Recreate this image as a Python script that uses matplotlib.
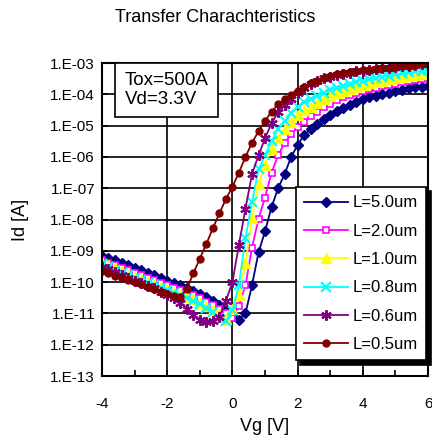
import numpy as np
import matplotlib
matplotlib.use("Agg")
import matplotlib.pyplot as plt
from matplotlib.ticker import FixedLocator, NullFormatter

plt.rcParams['font.family'] = ['Liberation Sans', 'DejaVu Sans']

# gate voltage sweep [V]
vg = [-4.0, -3.8, -3.6, -3.4, -3.2, -3.0, -2.8, -2.6, -2.4, -2.2,
      -2.0, -1.8, -1.6, -1.4, -1.2, -1.0, -0.8, -0.6, -0.4, -0.2,
      0.0, 0.2, 0.4, 0.6, 0.8, 1.0, 1.2, 1.4, 1.6, 1.8,
      2.0, 2.2, 2.4, 2.6, 2.8, 3.0, 3.2, 3.4, 3.6, 3.8,
      4.0, 4.2, 4.4, 4.6, 4.8, 5.0, 5.2, 5.4, 5.6, 5.8, 6.0]

# log10(Id), one list per gate length
log_id_5p0 = [-9.15, -9.22, -9.30, -9.38, -9.45, -9.55, -9.62, -9.70, -9.78, -9.86,
              -9.95, -10.02, -10.10, -10.20, -10.28, -10.37, -10.48, -10.60, -10.73, -10.85,
              -11.05, -11.20, -11.00, -10.10, -9.05, -8.38, -7.60, -7.00, -6.55, -6.00,
              -5.62, -5.30, -5.12, -4.95, -4.80, -4.65, -4.53, -4.43, -4.34, -4.25,
              -4.16, -4.10, -4.05, -4.00, -3.95, -3.90, -3.85, -3.81, -3.78, -3.75, -3.72]
log_id_2p0 = [-9.30, -9.38, -9.46, -9.54, -9.62, -9.70, -9.78, -9.86, -9.94, -10.02,
              -10.10, -10.18, -10.26, -10.34, -10.42, -10.52, -10.62, -10.74, -10.86, -11.00,
              -11.15, -10.75, -10.10, -8.90, -7.98, -7.30, -6.50, -5.95, -5.55, -5.28,
              -5.05, -4.87, -4.70, -4.55, -4.42, -4.30, -4.18, -4.08, -4.01, -3.95,
              -3.89, -3.84, -3.79, -3.74, -3.70, -3.66, -3.62, -3.58, -3.55, -3.52, -3.48]
log_id_1p0 = [-9.38, -9.46, -9.55, -9.64, -9.73, -9.82, -9.90, -9.98, -10.06, -10.14,
              -10.22, -10.30, -10.38, -10.46, -10.55, -10.65, -10.76, -10.88, -11.02, -11.18,
              -10.85, -10.40, -9.40, -7.95, -6.85, -6.25, -5.75, -5.40, -5.12, -4.88,
              -4.66, -4.50, -4.40, -4.28, -4.15, -4.05, -3.96, -3.89, -3.82, -3.76,
              -3.70, -3.65, -3.60, -3.56, -3.52, -3.48, -3.45, -3.42, -3.39, -3.36, -3.33]
log_id_0p8 = [-9.43, -9.52, -9.61, -9.70, -9.78, -9.86, -9.94, -10.02, -10.10, -10.18,
              -10.26, -10.34, -10.42, -10.50, -10.60, -10.70, -10.82, -10.95, -11.15, -11.25,
              -10.90, -10.10, -8.60, -7.45, -6.40, -5.95, -5.50, -5.10, -4.85, -4.60,
              -4.40, -4.25, -4.15, -4.05, -3.95, -3.87, -3.80, -3.73, -3.67, -3.61,
              -3.56, -3.51, -3.47, -3.43, -3.40, -3.36, -3.33, -3.30, -3.27, -3.25, -3.22]
log_id_0p6 = [-9.50, -9.59, -9.68, -9.77, -9.86, -9.95, -10.04, -10.12, -10.20, -10.30,
              -10.40, -10.50, -10.65, -10.85, -11.05, -11.20, -11.28, -11.25, -11.10, -10.60,
              -10.00, -8.80, -7.65, -6.55, -5.95, -5.40, -4.92, -4.57, -4.35, -4.14,
              -3.97, -3.80, -3.66, -3.57, -3.49, -3.43, -3.38, -3.35, -3.31, -3.27,
              -3.24, -3.21, -3.19, -3.17, -3.15, -3.13, -3.11, -3.09, -3.06, -3.03, -3.01]
log_id_0p5 = [-9.65, -9.72, -9.79, -9.86, -9.93, -10.00, -10.07, -10.14, -10.22, -10.30,
              -10.37, -10.44, -10.48, -10.22, -9.72, -9.25, -8.78, -8.28, -7.80, -7.35,
              -6.95, -6.50, -6.00, -5.55, -5.18, -4.85, -4.55, -4.32, -4.15, -4.02,
              -3.90, -3.76, -3.65, -3.56, -3.48, -3.41, -3.36, -3.32, -3.28, -3.25,
              -3.23, -3.21, -3.19, -3.17, -3.15, -3.13, -3.11, -3.09, -3.07, -3.04, -3.02]

labels = ["L=5.0um", "L=2.0um", "L=1.0um", "L=0.8um", "L=0.6um", "L=0.5um"]
y_ticks = [1e-3, 1e-4, 1e-5, 1e-6, 1e-7, 1e-8, 1e-9, 1e-10, 1e-11, 1e-12, 1e-13]
x_ticks = [-4, -2, 0, 2, 4, 6]

series = [log_id_5p0, log_id_2p0, log_id_1p0, log_id_0p8, log_id_0p6, log_id_0p5]
styles = [
    dict(color="#000080", marker="D", ms=5, mfc="#000080"),
    dict(color="#FF00FF", marker="s", ms=5, mfc="white", mew=1.2),
    dict(color="#FFFF00", marker="^", ms=6.5, mfc="#FFFF00"),
    dict(color="#00FFFF", marker="x", ms=6.5, mew=1.5),
    dict(color="#800080", marker=(6, 2, 0), ms=7.5, mew=1.5),
    dict(color="#800000", marker="o", ms=5, mfc="#800000"),
]

fig = plt.figure(figsize=(4.32, 4.44), dpi=100)
ax = fig.add_axes([0.236, 0.153, 0.755, 0.705])

for logs, lab, st in zip(series, labels, styles):
    ax.plot(vg, 10 ** np.array(logs), lw=1.3, label=lab, **st)

ax.set_yscale("log")
ax.set_ylim(1e-13, 1e-3)
ax.set_xlim(-4, 6)
ax.yaxis.set_minor_locator(FixedLocator([]))
ax.yaxis.set_minor_formatter(NullFormatter())
ax.set_yticks(y_ticks)
ax.set_yticklabels(["1.E-%02d" % round(-np.log10(t)) for t in y_ticks])
ax.set_xticks(x_ticks)
ax.set_xticklabels([str(t) for t in x_ticks])
ax.xaxis.set_minor_locator(FixedLocator([-3, -1, 1, 3, 5]))

ax.tick_params(which="major", direction="in", length=4, width=1.2, labelsize=11)
ax.tick_params(which="minor", direction="in", length=4, width=1.2)
ax.tick_params(axis="x", pad=15)
ax.tick_params(axis="y", pad=5)
ax.grid(True, which="major", color="black", lw=1.2)
for sp in ax.spines.values():
    sp.set_linewidth(1.5)

ax.set_xlabel("Vg [V]", fontsize=13, labelpad=5)
ax.set_ylabel("Id [A]", fontsize=13, labelpad=15)
fig.text(0.498, 0.96, "Transfer Charachteristics", ha="center", va="center", fontsize=13)

ax.text(0.07, 0.97, "Tox=500A\nVd=3.3V", transform=ax.transAxes, ha="left", va="top",
        fontsize=13.5, linespacing=1.1,
        bbox=dict(boxstyle="square,pad=0.5", fc="white", ec="black", lw=1.2))

leg = ax.legend(loc="upper left", bbox_to_anchor=(0.595, 0.604), borderaxespad=0,
                fontsize=12, handlelength=2.6, labelspacing=0.8, handletextpad=0.3,
                borderpad=0.5, fancybox=False, framealpha=1, edgecolor="black",
                shadow=dict(color="black", alpha=1, ox=3, oy=-3))
leg.get_frame().set_linewidth(1.2)

fig.savefig("out.png", dpi=100)
